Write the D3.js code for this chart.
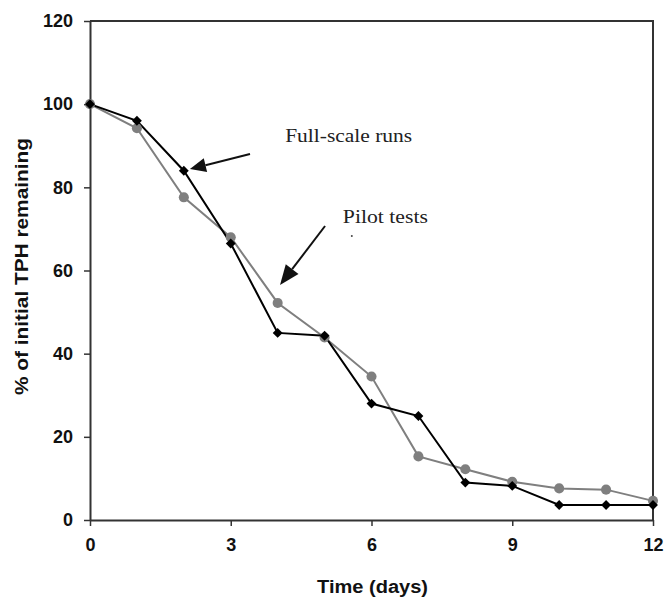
<!DOCTYPE html>
<html>
<head>
<meta charset="utf-8">
<script src="https://cdn.jsdelivr.net/npm/d3@7"></script>
<style>
  html, body { margin: 0; padding: 0; background: #fff; }
</style>
</head>
<body>
<div id="root"></div>
<script>
// data
const days = [0, 1, 2, 3, 4, 5, 6, 7, 8, 9, 10, 11, 12];
const fullScale = [100, 96, 84, 66.5, 45, 44.3, 28, 25, 9, 8.2, 3.6, 3.6, 3.6];
const pilotTests = [100, 94.2, 77.6, 68, 52.2, 43.9, 34.5, 15.3, 12.2, 9.2, 7.6, 7.3, 4.6];
const xTicks = [0, 3, 6, 9, 12];
const yTicks = [0, 20, 40, 60, 80, 100, 120];

const width = 664, height = 597;
const margin = { top: 21, right: 11, bottom: 77, left: 90 };
const innerW = width - margin.left - margin.right;
const innerH = height - margin.top - margin.bottom;

const svg = d3.select('#root').append('svg')
    .attr('width', width)
    .attr('height', height)
    .attr('xmlns', 'http://www.w3.org/2000/svg');

const g = svg.append('g')
    .attr('transform', `translate(${margin.left},${margin.top})`);

const x = d3.scaleLinear().domain([0, 12]).range([0, innerW]);
const y = d3.scaleLinear().domain([0, 120]).range([innerH, 0]);

const axisColor = '#333';

// frame (top + right)
g.append('path')
    .attr('d', `M0,0H${innerW}V${innerH}`)
    .attr('fill', 'none')
    .attr('stroke', axisColor)
    .attr('stroke-width', 2);

const gy = g.append('g')
    .call(d3.axisLeft(y).tickValues(yTicks).tickSize(6).tickPadding(11).tickSizeOuter(0));
const gx = g.append('g')
    .attr('transform', `translate(0,${innerH})`)
    .call(d3.axisBottom(x).tickValues(xTicks).tickSize(6).tickPadding(12).tickSizeOuter(0));

[gx, gy].forEach(ax => {
    ax.select('.domain').attr('stroke', axisColor).attr('stroke-width', 2);
    ax.selectAll('.tick line').attr('stroke', axisColor).attr('stroke-width', 1.5);
    ax.selectAll('.tick text')
        .attr('fill', '#111')
        .attr('font-family', 'Liberation Sans, Arial, sans-serif')
        .attr('font-weight', 700)
        .attr('font-size', 18);
});

// axis titles
svg.append('text')
    .attr('x', margin.left + innerW / 2 + 1)
    .attr('y', 593)
    .attr('text-anchor', 'middle')
    .attr('font-family', 'Liberation Sans, Arial, sans-serif')
    .attr('font-weight', 700)
    .attr('font-size', 18)
    .attr('fill', '#111')
    .attr('textLength', 111)
    .attr('lengthAdjust', 'spacingAndGlyphs')
    .text('Time (days)');

svg.append('text')
    .attr('transform', 'translate(28,266.5) rotate(-90)')
    .attr('text-anchor', 'middle')
    .attr('font-family', 'Liberation Sans, Arial, sans-serif')
    .attr('font-weight', 700)
    .attr('font-size', 18)
    .attr('fill', '#111')
    .attr('textLength', 257)
    .attr('lengthAdjust', 'spacingAndGlyphs')
    .text('% of initial TPH remaining');

// series
const line = d3.line().x((d, i) => x(days[i])).y(d => y(d));

const series = [
    { name: 'Pilot tests', values: pilotTests, color: '#7f7f7f', shape: d3.symbolCircle, size: 80 },
    { name: 'Full-scale runs', values: fullScale, color: '#000', shape: d3.symbolDiamond2, size: 62 },
];

series.forEach(s => {
    g.append('path')
        .datum(s.values)
        .attr('d', line)
        .attr('fill', 'none')
        .attr('stroke', s.color)
        .attr('stroke-width', 2);
});
series.forEach(s => {
    g.selectAll(null)
        .data(s.values)
        .join('path')
        .attr('transform', (d, i) => `translate(${x(days[i])},${y(d)})`)
        .attr('d', d3.symbol().type(s.shape).size(s.size))
        .attr('fill', s.color);
});

// annotations (data coordinates)
function arrow(from, to, headLen, headW) {
    const x1 = x(from[0]), y1 = y(from[1]), x2 = x(to[0]), y2 = y(to[1]);
    const ang = Math.atan2(y2 - y1, x2 - x1);
    const bx = x2 - headLen * Math.cos(ang), by = y2 - headLen * Math.sin(ang);
    const nx = -Math.sin(ang) * headW / 2, ny = Math.cos(ang) * headW / 2;
    g.append('line')
        .attr('x1', x1).attr('y1', y1).attr('x2', bx).attr('y2', by)
        .attr('stroke', '#111').attr('stroke-width', 2);
    g.append('path')
        .attr('d', `M${x2},${y2}L${bx + nx},${by + ny}L${bx - nx},${by - ny}Z`)
        .attr('fill', '#111');
}

arrow([3.41, 88.0], [2.13, 84.4], 16, 14);
arrow([5.01, 70.7], [4.05, 56.5], 20, 16);

const label = (t, dx, dy, len) => g.append('text')
    .attr('x', x(dx))
    .attr('y', y(dy))
    .attr('font-family', 'Liberation Serif, Times New Roman, serif')
    .attr('font-size', 19)
    .attr('fill', '#222')
    .attr('textLength', len)
    .attr('lengthAdjust', 'spacingAndGlyphs')
    .text(t);

label('Full-scale runs', 4.16, 90.9, 127);
label('Pilot tests', 5.39, 71.4, 85);

g.append('circle')
    .attr('cx', x(5.58))
    .attr('cy', y(68.3))
    .attr('r', 1)
    .attr('fill', '#444');
</script>
</body>
</html>
